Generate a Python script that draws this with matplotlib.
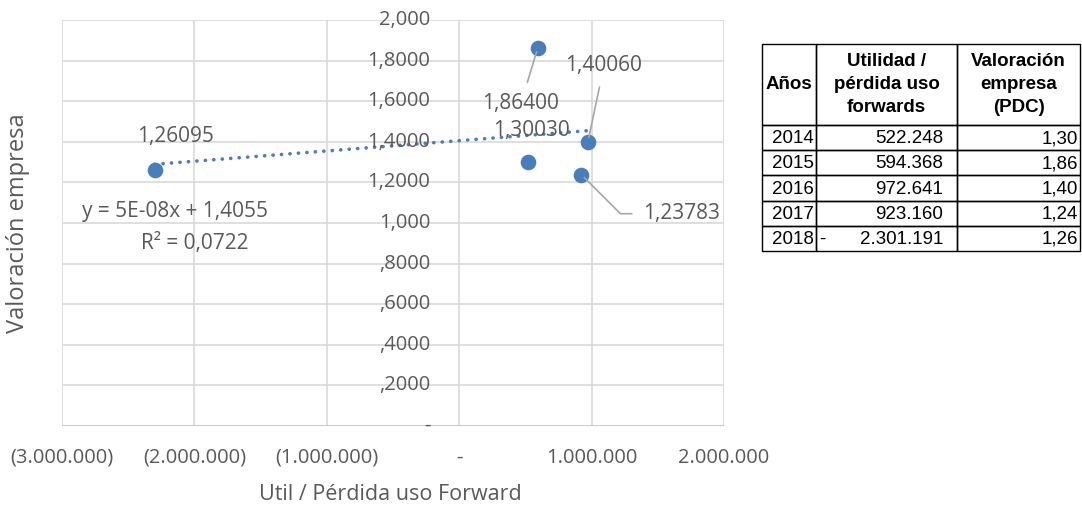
import matplotlib.pyplot as plt
import numpy as np

# datos por año
anios = ["2014", "2015", "2016", "2017", "2018"]
util_forward = [522248, 594368, 972641, 923160, -2301191]
valoracion = [1.30030, 1.86400, 1.40060, 1.23783, 1.26095]
valoracion_tabla = ["1,30", "1,86", "1,40", "1,24", "1,26"]
util_tabla = ["522.248", "594.368", "972.641", "923.160", "2.301.191"]

x_ticks = [-3000000, -2000000, -1000000, 0, 1000000, 2000000]
x_tick_labels = ["(3.000.000)", "(2.000.000)", "(1.000.000)", "-", "1.000.000", "2.000.000"]
y_ticks = [0, 0.2, 0.4, 0.6, 0.8, 1.0, 1.2, 1.4, 1.6, 1.8, 2.0]
y_tick_labels = ["-", ",2000", ",4000", ",6000", ",8000", "1,000", "1,2000", "1,4000", "1,6000", "1,8000", "2,000"]

azul = "#4a7ebb"
gris_txt = "#595959"
gris_grid = "#d9d9d9"

plt.rcParams['font.family'] = ["Open Sans", 'DejaVu Sans']

W, H = 1082, 508
fig = plt.figure(figsize=(W / 100, H / 100), dpi=100)
ax = fig.add_axes([62/W, 82/H, 662/W, 406/H])

ax.set_xlim(-3000000, 2000000)
ax.set_ylim(0, 2.0)
for s in ax.spines.values():
    s.set_visible(False)
for xv in x_ticks:
    ax.axvline(xv, color=gris_grid, lw=1.2, zorder=0)
for yv in y_ticks[1:]:
    ax.axhline(yv, color=gris_grid, lw=1.2, zorder=0)
ax.axhline(0, color="#bfbfbf", lw=1.2, zorder=0)
ax.set_xticks([])
ax.set_yticks([])

# etiquetas del eje y a la izquierda de x = 0
for yv, lab in zip(y_ticks, y_tick_labels):
    ax.annotate(lab, (0, yv), xytext=(-29, 0), textcoords="offset pixels",
                ha="right", va="center", fontsize=14.5, color=gris_txt)
# etiquetas del eje x debajo del área
for xv, lab in zip(x_ticks, x_tick_labels):
    ax.annotate(lab, (xv, 0), xytext=(0, -32), textcoords="offset pixels",
                ha="center", va="center", fontsize=14.5, color=gris_txt)

ax.scatter(util_forward, valoracion, s=105, color=azul, zorder=3)

# línea de tendencia lineal
m, b = np.polyfit(util_forward, valoracion, 1)
xs = np.array([min(util_forward), max(util_forward)])
ax.plot(xs, m * xs + b, color=azul, lw=2.6, ls=(0, (0.05, 2.3)),
        dash_capstyle="round", zorder=2)
fig.text(175/W, 1 - 212/H, "y = 5E-08x + 1,4055", ha="center", va="center",
         fontsize=15, color=gris_txt)
fig.text(195/W, 1 - 243/H, "R² = 0,0722", ha="center", va="center",
         fontsize=15, color=gris_txt)

# etiquetas de datos (desplazamiento en píxeles)
etiquetas = ["1,30030", "1,86400", "1,40060", "1,23783", "1,26095"]
desplaz = [(3, 32), (-17, -56), (16, 76), (100, -39), (21, 34)]
guias = [None, "arc3", "arc3", "angle,angleA=0,angleB=-45,rad=0", None]
for xv, yv, lab, (dx, dy), g in zip(util_forward, valoracion, etiquetas, desplaz, guias):
    props = None
    if g:
        props = dict(arrowstyle="-", color="#a6a6a6", lw=1.2, shrinkA=6, shrinkB=3,
                     connectionstyle=g)
    ax.annotate(lab, (xv, yv), xytext=(dx, dy), textcoords="offset pixels",
                ha="center", va="center", fontsize=15, color=gris_txt, arrowprops=props)

fig.text(18/W, 1 - 223/H, "Valoración empresa", rotation=90, ha="center", va="center",
         fontsize=17, color=gris_txt)
fig.text(390/W, 1 - 495/H, "Util / Pérdida uso Forward", ha="center", va="center",
         fontsize=15.5, color=gris_txt)

# tabla de datos a la derecha
tf = ["Liberation Sans", "DejaVu Sans"]
bordes = [762, 816, 957, 1080]
top, cab_bot, fila_h = 44, 125, 25.2


def px(x, y):
    return x / W, 1 - y / H


def celda(x0, y0, x1, y1):
    fig.add_artist(plt.Rectangle(px(x0, y1), (x1 - x0) / W, (y1 - y0) / H,
                                 transform=fig.transFigure, fill=False, ec="black", lw=1.0))


cabeceras = ["Años", "Utilidad /\npérdida uso\nforwards", "Valoración\nempresa\n(PDC)"]
for i, c in enumerate(cabeceras):
    celda(bordes[i], top, bordes[i + 1], cab_bot)
    fig.text(*px((bordes[i] + bordes[i + 1]) / 2, (top + cab_bot) / 2), c,
             ha="center", va="center", fontsize=13.5, fontweight="bold", family=tf,
             linespacing=1.5)
for r in range(len(anios)):
    y0 = cab_bot + r * fila_h
    y1 = y0 + fila_h
    for i in range(3):
        celda(bordes[i], y0, bordes[i + 1], y1)
    yc = (y0 + y1) / 2 + 1
    fig.text(*px(bordes[1] - 2, yc), anios[r], ha="right", va="center", fontsize=13.5, family=tf)
    fig.text(*px(bordes[2] - 14, yc), util_tabla[r], ha="right", va="center", fontsize=13.5, family=tf)
    if util_forward[r] < 0:
        fig.text(*px(bordes[1] + 3, yc), "-", ha="left", va="center", fontsize=13.5, family=tf)
    fig.text(*px(bordes[3] - 2, yc), valoracion_tabla[r], ha="right", va="center", fontsize=13.5, family=tf)

fig.savefig("out.png", dpi=100)
